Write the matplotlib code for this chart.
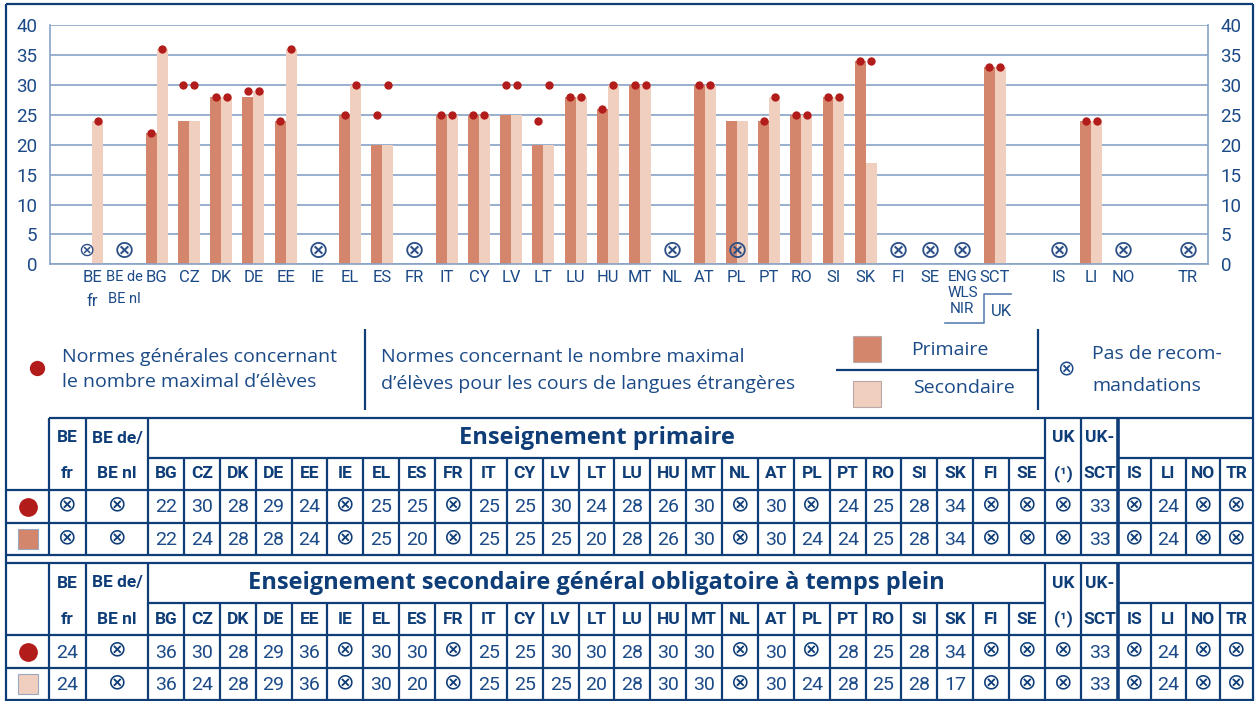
import matplotlib
matplotlib.use("Agg")
from matplotlib import pyplot as plt
from matplotlib import font_manager
from matplotlib.patches import Rectangle

# pick a narrow face for the condensed labels, if there is one
fonts = {f.name for f in font_manager.fontManager.ttflist}
narrow = "Liberation Sans Narrow" if "Liberation Sans Narrow" in fonts else "Roboto"
plt.rcParams["font.family"] = [narrow, "DejaVu Sans"]

# countries, in chart order (slot = position on the x axis)
chart_labels = ["BE\nfr", "BE de\nBE nl", "BG", "CZ", "DK", "DE", "EE", "IE", "EL", "ES", "FR",
                "IT", "CY", "LV", "LT", "LU", "HU", "MT", "NL", "AT", "PL", "PT", "RO", "SI",
                "SK", "FI", "SE", "ENG\nWLS\nNIR", "SCT", "IS", "LI", "NO", "TR"]
chart_slots = list(range(29)) + [30, 31, 32, 34]

# None = no recommendation
X = None
prim_norm = [X, X, 22, 30, 28, 29, 24, X, 25, 25, X, 25, 25, 30, 24, 28, 26, 30, X, 30, X,
             24, 25, 28, 34, X, X, X, 33, X, 24, X, X]
prim_lang = [X, X, 22, 24, 28, 28, 24, X, 25, 20, X, 25, 25, 25, 20, 28, 26, 30, X, 30, 24,
             24, 25, 28, 34, X, X, X, 33, X, 24, X, X]
sec_norm = [24, X, 36, 30, 28, 29, 36, X, 30, 30, X, 25, 25, 30, 30, 28, 30, 30, X, 30, X,
            28, 25, 28, 34, X, X, X, 33, X, 24, X, X]
sec_lang = [24, X, 36, 24, 28, 29, 36, X, 30, 20, X, 25, 25, 25, 20, 28, 30, 30, X, 30, 24,
            28, 25, 28, 17, X, X, X, 33, X, 24, X, X]

# table headers
codes = chart_labels[2:27]
head_top = ["BE", "BE de/"] + [""] * 25 + ["UK", "UK-"] + [""] * 4
head_bot = ["fr", "BE nl"] + codes + ["(¹)", "SCT", "IS", "LI", "NO", "TR"]
title_prim = "Enseignement primaire"
title_sec = "Enseignement secondaire général obligatoire à temps plein"

navy = "#0e3d78"
txt = "#1b4a87"
grid = "#88a2c7"
prim = "#d4866c"
sec = "#f1cfbf"
dot = "#b21c1a"
xsym = "\u2297"

fig = plt.figure(figsize=(12.56, 7.01), dpi=100)

# page layer in pixels: frame, legend, tables
pg = fig.add_axes([0, 0, 1, 1])
pg.set_xlim(0, 1256)
pg.set_ylim(701, 0)
pg.axis("off")

# ---- chart ----
ax = fig.add_axes([50 / 1256, 1 - 264.3 / 701, 1158 / 1256, 239 / 701])
ax.patch.set_alpha(0)
w = 0.34
bx = [s - w / 2 for s, v in zip(chart_slots, prim_lang) if v is not None]
by = [v for v in prim_lang if v is not None]
ax.bar(bx, by, w, color=prim, zorder=2)
bx = [s + w / 2 for s, v in zip(chart_slots, sec_lang) if v is not None]
by = [v for v in sec_lang if v is not None]
ax.bar(bx, by, w, color=sec, zorder=2)

dx = [s - w / 2 for s, v in zip(chart_slots, prim_norm) if v is not None]
dy = [v for v in prim_norm if v is not None]
dx += [s + w / 2 for s, v in zip(chart_slots, sec_norm) if v is not None]
dy += [v for v in sec_norm if v is not None]
ax.scatter(dx, dy, s=36, color=dot, zorder=3, linewidths=0, clip_on=False)

for s, p, q in zip(chart_slots, prim_norm, sec_norm):
    if p is None and q is None:
        ax.text(s, 2.3, xsym, ha="center", va="center", fontsize=18, color="#2b4f86",
                family="DejaVu Sans", zorder=4)
    elif p is None:
        ax.text(s - w / 2, 2.3, xsym, ha="center", va="center", fontsize=14, color="#2b4f86",
                family="DejaVu Sans", zorder=4)

ax.set_xlim(-1.31, 34.62)
ax.set_ylim(0, 40)
ax.set_yticks(range(0, 41, 5))
ax.yaxis.grid(True, color=grid, lw=1.2)
ax.set_axisbelow(True)
ax.tick_params(axis="y", length=0, labelsize=13.5, labelcolor=txt, pad=9, labelright=True)
ax.set_xticks(chart_slots, chart_labels)
ax.tick_params(axis="x", length=0, labelsize=12, labelcolor=txt, pad=4)
for lab in ax.get_xticklabels():
    if lab.get_text().startswith("ENG"):
        lab.set_linespacing(1.2)
        lab.set_fontsize(11)
    elif "\n" in lab.get_text():
        lab.set_linespacing(1.75)
        lab.set_fontsize(10.5 if "de" in lab.get_text() else 12)
for side in ["left", "right", "bottom"]:
    ax.spines[side].set_color(grid)
    ax.spines[side].set_linewidth(1.2)
ax.spines["top"].set_visible(False)

# UK bracket under the labels
pg.plot([945, 984, 984, 1011], [323, 323, 294, 294], color="#5d80b1", lw=1.2)
pg.text(1001, 312, "UK", ha="center", va="center", fontsize=12, color=txt)

# ---- outer frame ----
pg.hlines(4, 6, 1253, color=navy, lw=1.6)
pg.vlines([6, 1253], 4, 701, color=navy, lw=1.6)

# ---- legend ----
pg.plot(37, 368, "o", ms=11, color=dot, mec="none")
pg.text(62, 357, "Normes générales concernant", fontsize=14, color=txt, va="center",
        family="Open Sans")
pg.text(62, 382, "le nombre maximal d’élèves", fontsize=14, color=txt, va="center",
        family="Open Sans")
pg.vlines(365, 329, 410, color=navy, lw=1.6)
pg.text(381, 357, "Normes concernant le nombre maximal", fontsize=14, color=txt, va="center",
        family="Open Sans")
pg.text(381, 384, "d’élèves pour les cours de langues étrangères", fontsize=14, color=txt,
        va="center", family="Open Sans")
pg.add_patch(Rectangle((853, 336), 28, 26, facecolor=prim, edgecolor="#b8a8a8", lw=0.8))
pg.add_patch(Rectangle((853, 381), 28, 26, facecolor=sec, edgecolor="#b8a8a8", lw=0.8))
pg.hlines(370, 836, 1038, color=navy, lw=1.6)
pg.text(950, 350, "Primaire", fontsize=14, color=txt, ha="center", va="center", family="Open Sans")
pg.text(964, 388, "Secondaire", fontsize=14, color=txt, ha="center", va="center",
        family="Open Sans")
pg.vlines(1038, 329, 410, color=navy, lw=1.6)
pg.text(1066, 369, xsym, fontsize=15, color=txt, ha="center", va="center", family="DejaVu Sans")
pg.text(1092, 354, "Pas de recom-", fontsize=14, color=txt, va="center", family="Open Sans")
pg.text(1092, 386, "mandations", fontsize=14, color=txt, va="center", family="Open Sans")

# ---- tables ----
col_x = [49, 86, 148] + [148 + 35.88 * k for k in range(1, 26)] + [1081, 1118, 1151, 1186, 1220, 1253]
centers = [(a + b) / 2 for a, b in zip(col_x[:-1], col_x[1:])]


def draw_table(top, title, norm, lang, sq_color, top_from):
    y = [top, top + 40, top + 72, top + 105, top + 137]
    lw = 1.6
    pg.hlines(y[0], top_from, 1253, color=navy, lw=lw)
    pg.hlines(y[1], 148, 1045, color=navy, lw=lw)
    pg.hlines(y[1], 1118, 1253, color=navy, lw=lw)
    pg.hlines(y[2:], 6, 1253, color=navy, lw=lw)
    pg.vlines([49, 86, 148, 1045, 1081], y[0], y[4], color=navy, lw=lw)
    pg.vlines(1118, y[0], y[4], color=navy, lw=2.6)
    pg.vlines(col_x[3:27] + col_x[30:33], y[1], y[4], color=navy, lw=lw)

    for c, t1, t2 in zip(centers, head_top, head_bot):
        if t1:
            pg.text(c, y[0] + 20, t1, ha="center", va="center", fontsize=12.5,
                    fontweight="bold", color=navy)
        pg.text(c, (y[1] + y[2]) / 2, t2, ha="center", va="center", fontsize=12.5,
                fontweight="bold", color=navy)
    pg.text(596.5, y[0] + 20, title, ha="center", va="center", fontsize=17,
            fontweight="bold", color=navy, family="Open Sans")

    pg.plot(27.5, (y[2] + y[3]) / 2, "o", ms=13.5, color=dot, mec="none")
    pg.plot(27.5, (y[3] + y[4]) / 2, "s", ms=14, color=sq_color, mec="#9aa8c0", mew=0.8)
    for row, vals in (((y[2] + y[3]) / 2, norm), ((y[3] + y[4]) / 2, lang)):
        for c, v in zip(centers, vals):
            if v is None:
                pg.text(c, row - 2, xsym, ha="center", va="center", fontsize=16,
                        color=navy, family="DejaVu Sans")
            else:
                pg.text(c, row + 1, str(v), ha="center", va="center", fontsize=14,
                        color=txt)


draw_table(418, title_prim, prim_norm, prim_lang, prim, 49)
draw_table(563, title_sec, sec_norm, sec_lang, sec, 6)

fig.savefig("out.png", dpi=100)
